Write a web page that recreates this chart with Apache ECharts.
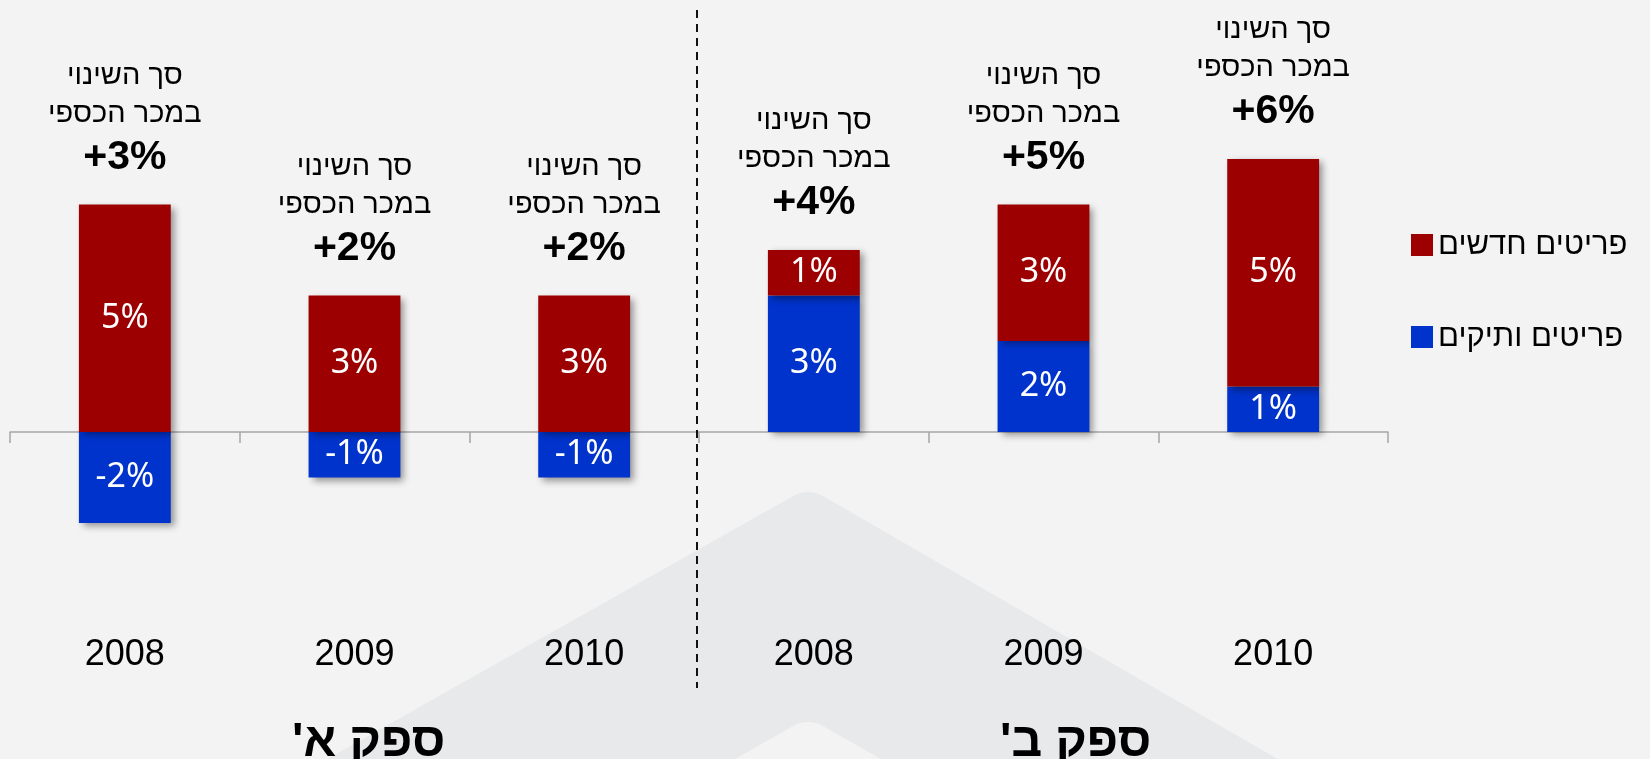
<!DOCTYPE html>
<html>
<head>
<meta charset="utf-8">
<script src="https://cdn.jsdelivr.net/npm/echarts@6/dist/echarts.min.js"></script>
<style>
html,body{margin:0;padding:0;background:#f3f3f3;}
#c{width:1650px;height:759px;}
</style>
</head>
<body>
<div id="c"></div>
<script>
// ---- data ----
const categories = ['2008', '2009', '2010', '2008', '2009', '2010'];
const newItems = [5, 3, 3, 1, 3, 5];        // פריטים חדשים
const oldItems = [-2, -1, -1, 3, 2, 1];     // פריטים ותיקים
const totalChange = [3, 2, 2, 4, 5, 6];     // סך השינוי במכר הכספי
const seriesNames = ['פריטים חדשים', 'פריטים ותיקים'];
const groupLabels = ["ספק א'\u200F", "ספק ב'\u200F"];
const annotationLines = ['סך השינוי', 'במכר הכספי'];

const RED = '#9c0000';
const BLUE = '#0033cc';
const HEB = '"Liberation Sans", Arial, "DejaVu Sans", sans-serif';
const LAB = '"Noto Sans", "Open Sans", sans-serif';

const posTop = newItems.map((v, i) => Math.max(v, 0) + Math.max(oldItems[i], 0));

const chart = echarts.init(document.getElementById('c'), null, {renderer: 'canvas'});

const barShadow = {
  shadowColor: 'rgba(0,0,0,0.4)',
  shadowBlur: 7,
  shadowOffsetX: 4,
  shadowOffsetY: 3
};

chart.setOption({
  backgroundColor: '#f3f3f3',
  animation: false,
  grid: {left: 10, right: 262, top: 68, bottom: 145, containLabel: false},
  legend: {
    data: seriesNames,
    orient: 'vertical',
    left: 1406,
    top: 223,
    itemWidth: 22,
    itemHeight: 22,
    itemGap: 58,
    icon: 'rect',
    textStyle: {fontFamily: HEB, fontSize: 31, color: '#000', lineHeight: 34}
  },
  xAxis: [
    {
      type: 'category',
      data: categories,
      position: 'top',
      axisLine: {onZero: true, lineStyle: {color: '#a6a6a6', width: 1.5}},
      axisTick: {show: true, inside: true, length: 11, lineStyle: {color: '#a6a6a6', width: 1.5}},
      axisLabel: {show: false},
      splitLine: {show: false}
    },
    {
      type: 'category',
      data: categories,
      position: 'bottom',
      axisLine: {show: false},
      axisTick: {show: false},
      axisLabel: {show: true, fontFamily: HEB, fontSize: 36, color: '#000', margin: 23},
      splitLine: {show: false}
    }
  ],
  yAxis: {
    type: 'value',
    min: -4,
    max: 8,
    show: false,
    splitLine: {show: false}
  },
  graphic: {
    elements: [
      {
        type: 'polygon', z: -10, silent: true,
        shape: {points: [[808, 522], [130, 905], [1470, 905]]},
        style: {fill: '#e8e9eb', stroke: '#e8e9eb', lineWidth: 60, lineJoin: 'round'}
      },
      {
        type: 'polygon', z: -9, silent: true,
        shape: {points: [[808, 752], [470, 945], [1146, 945]]},
        style: {fill: '#f3f3f3', stroke: '#f3f3f3', lineWidth: 60, lineJoin: 'round'}
      },
      {
        type: 'line', z: 5, silent: true,
        shape: {x1: 697, y1: 10, x2: 697, y2: 688},
        style: {stroke: '#111', lineWidth: 2, lineDash: [8, 6]}
      },
      {
        type: 'text', z: 5, silent: true,
        left: 292, top: 719,
        style: {text: groupLabels[0], font: 'bold 48px ' + HEB, fill: '#000'}
      },
      {
        type: 'text', z: 5, silent: true,
        left: 1000, top: 719,
        style: {text: groupLabels[1], font: 'bold 48px ' + HEB, fill: '#000'}
      }
    ]
  },
  series: [
    {
      name: seriesNames[1],
      type: 'bar',
      stack: 'total',
      barWidth: '40%',
      data: oldItems,
      itemStyle: Object.assign({color: BLUE}, barShadow),
      label: {
        show: true, position: 'inside', color: '#fff',
        fontFamily: LAB, fontSize: 34,
        formatter: p => p.value + '%'
      }
    },
    {
      name: seriesNames[0],
      type: 'bar',
      stack: 'total',
      barWidth: '40%',
      data: newItems,
      itemStyle: Object.assign({color: RED}, barShadow),
      label: {
        show: true, position: 'inside', color: '#fff',
        fontFamily: LAB, fontSize: 34,
        formatter: p => p.value + '%'
      }
    },
    {
      name: 'annot',
      type: 'scatter',
      data: posTop,
      symbolSize: 0,
      itemStyle: {color: '#000', opacity: 1},
      silent: true,
      z: 10,
      label: {
        show: true,
        position: 'top',
        distance: 22,
        align: 'center',
        color: '#000',
        formatter: p => '{a|' + annotationLines[0] + '}\n{a|' + annotationLines[1] + '}\n{b|+' + totalChange[p.dataIndex] + '%}',
        rich: {
          a: {fontFamily: HEB, fontSize: 29, lineHeight: 38, color: '#000', align: 'center'},
          b: {fontFamily: HEB, fontSize: 41, fontWeight: 'bold', lineHeight: 50, color: '#000', align: 'center'}
        }
      }
    }
  ]
});
</script>
</body>
</html>
